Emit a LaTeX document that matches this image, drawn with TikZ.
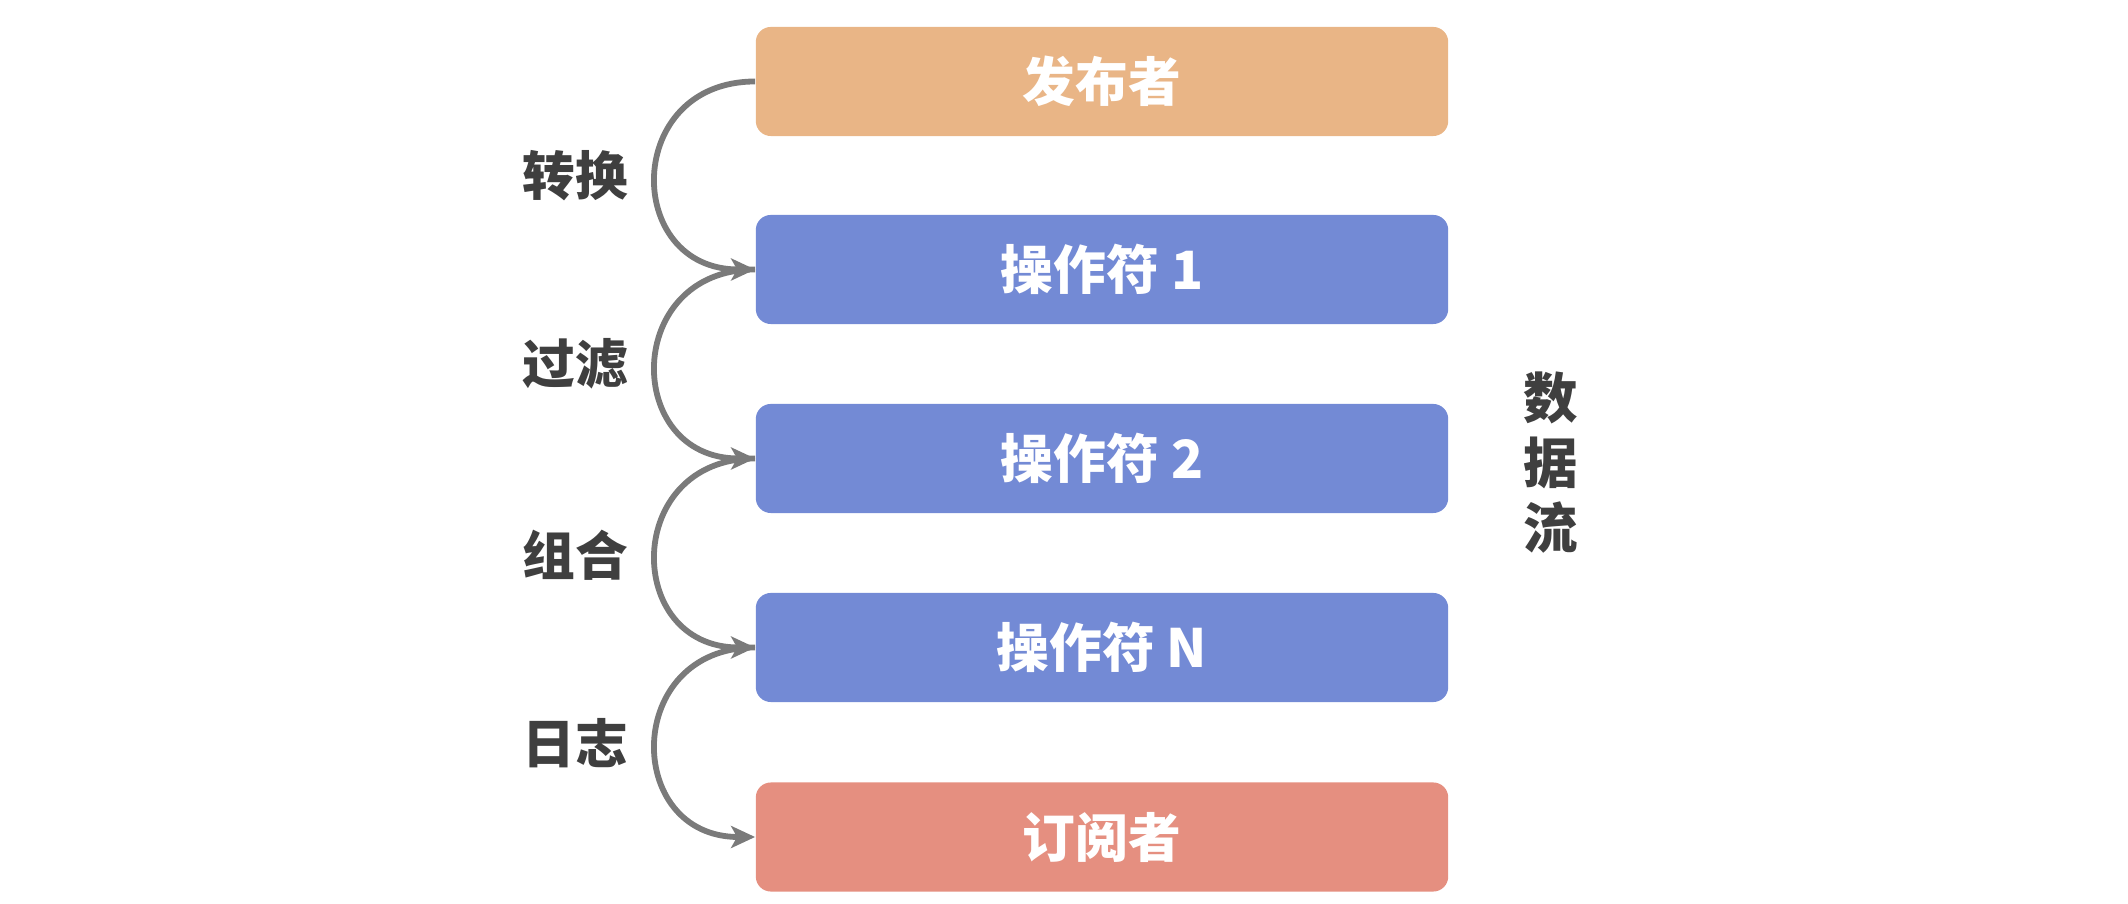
\documentclass[tikz,border=0pt]{standalone}
\usepackage{fontspec}
\setmainfont{Noto Sans CJK SC}
\usetikzlibrary{arrows.meta}
\definecolor{pubcol}{RGB}{233,181,134}
\definecolor{opcol}{RGB}{115,138,213}
\definecolor{subcol}{RGB}{229,143,128}
\definecolor{linecol}{RGB}{122,122,122}
\definecolor{txtcol}{RGB}{63,63,63}
\tikzset{
  boxnode/.style={rounded corners=0.15cm, minimum width=6.92cm, minimum height=1.09cm, inner sep=0pt, text=white, font=\fontsize{15pt}{18pt}\selectfont\bfseries},
  labelnode/.style={text=txtcol, font=\fontsize{15pt}{18pt}\selectfont\bfseries, inner sep=0pt},
  flowarrow/.style={draw=linecol, line width=0.058cm, -{Stealth[length=0.24cm, width=0.22cm, inset=0.06cm]}}
}
\begin{document}
\begin{tikzpicture}[x=0.01cm, y=-0.01cm]
\useasboundingbox (0,0) rectangle (2128,904);
\node[boxnode, fill=pubcol] (b1) at (1102,81.5) {发布者};
\node[boxnode, fill=opcol] (b2) at (1102,269.5) {操作符 1};
\node[boxnode, fill=opcol] (b3) at (1102,458.5) {操作符 2};
\node[boxnode, fill=opcol] (b4) at (1102,647.5) {操作符 N};
\node[boxnode, fill=subcol] (b5) at (1102,837) {订阅者};
\draw[flowarrow] (b1.west) .. controls +(-132,0) and +(-132,0) .. (b2.west);
\draw[flowarrow] (b2.west) .. controls +(-132,0) and +(-132,0) .. (b3.west);
\draw[flowarrow] (b3.west) .. controls +(-132,0) and +(-132,0) .. (b4.west);
\draw[flowarrow] (b4.west) .. controls +(-132,0) and +(-132,0) .. (b5.west);
\node[labelnode] (l1) at (575,176) {转换};
\node[labelnode] (l2) at (575,364) {过滤};
\node[labelnode] (l3) at (575,555) {组合};
\node[labelnode] (l4) at (575,743) {日志};
\node[labelnode, align=center, font=\fontsize{15.5pt}{0.65cm}\selectfont\bfseries] (flow) at (1551,463) {数\\据\\流};
\end{tikzpicture}
\end{document}
